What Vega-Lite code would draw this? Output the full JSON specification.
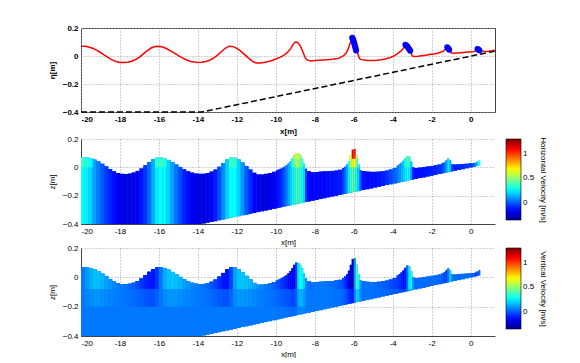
{
"$schema": "https://vega.github.io/schema/vega-lite/v6.json",
"padding": {"left": 47, "top": 23, "right": 0, "bottom": 0},
"background": "white",
"spacing": -1,
"datasets": {
"cols": [
{"x":-20,"x2":-19.8,"bed":-0.4,"eta":0.07,"u":0.27,"ut":0.36,"utz":0,"w":0.05,"wz":-0.08,"wm":0.05,"wmz":-0.2,"wd":0.05},
{"x":-19.8,"x2":-19.6,"bed":-0.4,"eta":0.069,"u":0.25,"ut":0.33,"utz":0,"w":0.1,"wz":-0.08,"wm":0.07,"wmz":-0.2,"wd":0.05},
{"x":-19.6,"x2":-19.4,"bed":-0.4,"eta":0.064,"u":0.2,"ut":0.27,"utz":0,"w":0.14,"wz":-0.08,"wm":0.086,"wmz":-0.2,"wd":0.05},
{"x":-19.4,"x2":-19.2,"bed":-0.4,"eta":0.055,"u":0.12,"w":0.17,"wz":-0.08,"wm":0.098,"wmz":-0.2,"wd":0.05},
{"x":-19.2,"x2":-19,"bed":-0.4,"eta":0.042,"u":0.06,"w":0.17,"wz":-0.08,"wm":0.098,"wmz":-0.2,"wd":0.05},
{"x":-19,"x2":-18.8,"bed":-0.4,"eta":0.025,"u":0,"w":0.15,"wz":-0.08,"wm":0.09,"wmz":-0.2,"wd":0.05},
{"x":-18.8,"x2":-18.6,"bed":-0.4,"eta":0.007,"u":-0.05,"w":0.12,"wz":-0.08,"wm":0.078,"wmz":-0.2,"wd":0.05},
{"x":-18.6,"x2":-18.4,"bed":-0.4,"eta":-0.012,"u":-0.09,"w":0.1,"wz":-0.08,"wm":0.07,"wmz":-0.2,"wd":0.05},
{"x":-18.4,"x2":-18.2,"bed":-0.4,"eta":-0.028,"u":-0.13,"w":0.08,"wz":-0.08,"wm":0.062,"wmz":-0.2,"wd":0.05},
{"x":-18.2,"x2":-18,"bed":-0.4,"eta":-0.04,"u":-0.16,"w":0.06,"wz":-0.08,"wm":0.054,"wmz":-0.2,"wd":0.05},
{"x":-18,"x2":-17.8,"bed":-0.4,"eta":-0.046,"u":-0.19,"w":0.05,"wz":-0.08,"wm":0.05,"wmz":-0.2,"wd":0.05},
{"x":-17.8,"x2":-17.6,"bed":-0.4,"eta":-0.047,"u":-0.2,"w":0.04,"wz":-0.08,"wm":0.046,"wmz":-0.2,"wd":0.05},
{"x":-17.6,"x2":-17.4,"bed":-0.4,"eta":-0.044,"u":-0.2,"w":0.02,"wz":-0.08,"wm":0.038,"wmz":-0.2,"wd":0.05},
{"x":-17.4,"x2":-17.2,"bed":-0.4,"eta":-0.037,"u":-0.19,"w":0,"wz":-0.08,"wm":0.03,"wmz":-0.2,"wd":0.05},
{"x":-17.2,"x2":-17,"bed":-0.4,"eta":-0.025,"u":-0.16,"w":-0.03,"wz":-0.08,"wm":0.018,"wmz":-0.2,"wd":0.05},
{"x":-17,"x2":-16.8,"bed":-0.4,"eta":-0.008,"u":-0.12,"w":-0.06,"wz":-0.08,"wm":0.006,"wmz":-0.2,"wd":0.05},
{"x":-16.8,"x2":-16.6,"bed":-0.4,"eta":0.015,"u":-0.06,"w":-0.09,"wz":-0.08,"wm":-0.006,"wmz":-0.2,"wd":0.05},
{"x":-16.6,"x2":-16.4,"bed":-0.4,"eta":0.038,"u":0.03,"w":-0.11,"wz":-0.08,"wm":-0.014,"wmz":-0.2,"wd":0.05},
{"x":-16.4,"x2":-16.2,"bed":-0.4,"eta":0.057,"u":0.14,"w":-0.11,"wz":-0.08,"wm":-0.014,"wmz":-0.2,"wd":0.05},
{"x":-16.2,"x2":-16,"bed":-0.4,"eta":0.068,"u":0.24,"ut":0.33,"utz":0,"w":-0.06,"wz":-0.08,"wm":0.006,"wmz":-0.2,"wd":0.05},
{"x":-16,"x2":-15.8,"bed":-0.4,"eta":0.07,"u":0.28,"ut":0.36,"utz":0,"w":0.05,"wz":-0.08,"wm":0.05,"wmz":-0.2,"wd":0.05},
{"x":-15.8,"x2":-15.6,"bed":-0.4,"eta":0.064,"u":0.26,"ut":0.32,"utz":0,"w":0.14,"wz":-0.08,"wm":0.086,"wmz":-0.2,"wd":0.05},
{"x":-15.6,"x2":-15.4,"bed":-0.4,"eta":0.052,"u":0.2,"w":0.17,"wz":-0.08,"wm":0.098,"wmz":-0.2,"wd":0.05},
{"x":-15.4,"x2":-15.2,"bed":-0.4,"eta":0.037,"u":0.12,"w":0.18,"wz":-0.08,"wm":0.102,"wmz":-0.2,"wd":0.05},
{"x":-15.2,"x2":-15,"bed":-0.4,"eta":0.02,"u":0.04,"w":0.17,"wz":-0.08,"wm":0.098,"wmz":-0.2,"wd":0.05},
{"x":-15,"x2":-14.8,"bed":-0.4,"eta":0.003,"u":-0.03,"w":0.15,"wz":-0.08,"wm":0.09,"wmz":-0.2,"wd":0.05},
{"x":-14.8,"x2":-14.6,"bed":-0.4,"eta":-0.013,"u":-0.09,"w":0.12,"wz":-0.08,"wm":0.078,"wmz":-0.2,"wd":0.05},
{"x":-14.6,"x2":-14.4,"bed":-0.4,"eta":-0.027,"u":-0.13,"w":0.1,"wz":-0.08,"wm":0.07,"wmz":-0.2,"wd":0.05},
{"x":-14.4,"x2":-14.2,"bed":-0.4,"eta":-0.037,"u":-0.17,"w":0.08,"wz":-0.08,"wm":0.062,"wmz":-0.2,"wd":0.05},
{"x":-14.2,"x2":-14,"bed":-0.4,"eta":-0.043,"u":-0.19,"w":0.06,"wz":-0.08,"wm":0.054,"wmz":-0.2,"wd":0.05},
{"x":-14,"x2":-13.8,"bed":-0.4,"eta":-0.046,"u":-0.2,"w":0.05,"wz":-0.08,"wm":0.05,"wmz":-0.2,"wd":0.05},
{"x":-13.8,"x2":-13.6,"bed":-0.397,"eta":-0.045,"u":-0.2,"w":0.04,"wz":-0.08,"wm":0.046,"wmz":-0.2,"wd":0.05},
{"x":-13.6,"x2":-13.4,"bed":-0.391,"eta":-0.04,"u":-0.19,"w":0.02,"wz":-0.08,"wm":0.038,"wmz":-0.2,"wd":0.05},
{"x":-13.4,"x2":-13.2,"bed":-0.386,"eta":-0.03,"u":-0.16,"w":-0.01,"wz":-0.08,"wm":0.026,"wmz":-0.2,"wd":0.05},
{"x":-13.2,"x2":-13,"bed":-0.38,"eta":-0.015,"u":-0.1,"w":-0.04,"wz":-0.08,"wm":0.014,"wmz":-0.2,"wd":0.05},
{"x":-13,"x2":-12.8,"bed":-0.374,"eta":0.005,"u":-0.02,"w":-0.08,"wz":-0.08,"wm":-0.002,"wmz":-0.2,"wd":0.05},
{"x":-12.8,"x2":-12.6,"bed":-0.368,"eta":0.03,"u":0.08,"w":-0.11,"wz":-0.08,"wm":-0.014,"wmz":-0.2,"wd":0.05},
{"x":-12.6,"x2":-12.4,"bed":-0.362,"eta":0.055,"u":0.2,"w":-0.12,"wz":-0.08,"wm":-0.018,"wmz":-0.2,"wd":0.05},
{"x":-12.4,"x2":-12.2,"bed":-0.357,"eta":0.07,"u":0.28,"ut":0.37,"utz":0,"w":-0.03,"wz":-0.08,"wm":0.018,"wmz":-0.2,"wd":0.05},
{"x":-12.2,"x2":-12,"bed":-0.351,"eta":0.067,"u":0.27,"ut":0.34,"utz":0,"w":0.12,"wz":-0.08,"wm":0.078,"wmz":-0.2,"wd":0.05},
{"x":-12,"x2":-11.8,"bed":-0.345,"eta":0.055,"u":0.2,"w":0.17,"wz":-0.08,"wm":0.098,"wmz":-0.2,"wd":0.05},
{"x":-11.8,"x2":-11.6,"bed":-0.339,"eta":0.035,"u":0.1,"w":0.18,"wz":-0.08,"wm":0.102,"wmz":-0.2,"wd":0.05},
{"x":-11.6,"x2":-11.4,"bed":-0.334,"eta":0.01,"u":0,"w":0.17,"wz":-0.08,"wm":0.098,"wmz":-0.2,"wd":0.05},
{"x":-11.4,"x2":-11.2,"bed":-0.328,"eta":-0.015,"u":-0.08,"w":0.15,"wz":-0.08,"wm":0.09,"wmz":-0.2,"wd":0.05},
{"x":-11.2,"x2":-11,"bed":-0.322,"eta":-0.038,"u":-0.15,"w":0.12,"wz":-0.08,"wm":0.078,"wmz":-0.2,"wd":0.05},
{"x":-11,"x2":-10.8,"bed":-0.316,"eta":-0.05,"u":-0.19,"w":0.09,"wz":-0.08,"wm":0.066,"wmz":-0.2,"wd":0.05},
{"x":-10.8,"x2":-10.6,"bed":-0.31,"eta":-0.05,"u":-0.2,"w":0.07,"wz":-0.08,"wm":0.058,"wmz":-0.2,"wd":0.05},
{"x":-10.6,"x2":-10.4,"bed":-0.305,"eta":-0.046,"u":-0.2,"w":0.05,"wz":-0.08,"wm":0.05,"wmz":-0.2,"wd":0.05},
{"x":-10.4,"x2":-10.2,"bed":-0.299,"eta":-0.04,"u":-0.19,"w":0.03,"wz":-0.08,"wm":0.042,"wmz":-0.2,"wd":0.05},
{"x":-10.2,"x2":-10,"bed":-0.293,"eta":-0.032,"u":-0.17,"w":0.01,"wz":-0.08,"wm":0.034,"wmz":-0.2,"wd":0.05},
{"x":-10,"x2":-9.9,"bed":-0.289,"eta":-0.022,"u":-0.14,"w":-0.01,"wz":-0.08,"wm":0.026,"wmz":-0.2,"wd":0.05},
{"x":-9.9,"x2":-9.8,"bed":-0.286,"eta":-0.016,"u":-0.12,"w":-0.03,"wz":-0.08,"wm":0.018,"wmz":-0.2,"wd":0.05},
{"x":-9.8,"x2":-9.7,"bed":-0.283,"eta":-0.01,"u":-0.09,"w":-0.05,"wz":-0.08,"wm":0.01,"wmz":-0.2,"wd":0.05},
{"x":-9.7,"x2":-9.6,"bed":-0.28,"eta":-0.003,"u":-0.05,"w":-0.07,"wz":-0.08,"wm":0.002,"wmz":-0.2,"wd":0.05},
{"x":-9.6,"x2":-9.5,"bed":-0.277,"eta":0.005,"u":0,"w":-0.09,"wz":-0.08,"wm":-0.006,"wmz":-0.2,"wd":0.04},
{"x":-9.5,"x2":-9.4,"bed":-0.274,"eta":0.015,"u":0.06,"w":-0.11,"wz":-0.08,"wm":-0.014,"wmz":-0.2,"wd":0.04},
{"x":-9.4,"x2":-9.3,"bed":-0.271,"eta":0.027,"u":0.13,"w":-0.13,"wz":-0.08,"wm":-0.022,"wmz":-0.2,"wd":0.03},
{"x":-9.3,"x2":-9.2,"bed":-0.269,"eta":0.042,"u":0.2,"w":-0.15,"wz":-0.08,"wm":-0.03,"wmz":-0.2,"wd":0.03},
{"x":-9.2,"x2":-9.1,"bed":-0.266,"eta":0.062,"u":0.27,"ut":0.35,"utz":0,"utt":0.4,"uttz":0.06,"w":-0.17,"wz":-0.08,"wm":-0.038,"wmz":-0.2,"wd":0.02},
{"x":-9.1,"x2":-9,"bed":-0.263,"eta":0.085,"u":0.33,"ut":0.45,"utz":0,"utt":0.5,"uttz":0.06,"w":-0.17,"wz":-0.08,"wm":-0.038,"wmz":-0.2,"wd":0.02},
{"x":-9,"x2":-8.9,"bed":-0.26,"eta":0.1,"u":0.38,"ut":0.55,"utz":0,"utt":0.62,"uttz":0.06,"w":-0.05,"wz":-0.08,"wm":0.01,"wmz":-0.2,"wd":0.04},
{"x":-8.9,"x2":-8.8,"bed":-0.257,"eta":0.098,"u":0.38,"ut":0.52,"utz":0,"utt":0.6,"uttz":0.06,"w":0.22,"wz":-0.08,"wm":0.118,"wmz":-0.2,"wd":0.07},
{"x":-8.8,"x2":-8.7,"bed":-0.254,"eta":0.085,"u":0.35,"ut":0.45,"utz":0,"utt":0.5,"uttz":0.06,"w":0.3,"wz":-0.08,"wm":0.15,"wmz":-0.2,"wd":0.08},
{"x":-8.7,"x2":-8.6,"bed":-0.251,"eta":0.06,"u":0.3,"ut":0.38,"utz":0,"w":0.28,"wz":-0.08,"wm":0.142,"wmz":-0.2,"wd":0.08},
{"x":-8.6,"x2":-8.5,"bed":-0.248,"eta":0.025,"u":0.22,"ut":0.26,"utz":0,"w":0.2,"wz":-0.08,"wm":0.11,"wmz":-0.2,"wd":0.07},
{"x":-8.5,"x2":-8.4,"bed":-0.245,"eta":-0.01,"u":-0.05,"w":0.08,"wz":-0.08,"wm":0.062,"wmz":-0.2,"wd":0.05},
{"x":-8.4,"x2":-8.2,"bed":-0.241,"eta":-0.028,"u":-0.14,"w":0.04,"wz":-0.08,"wm":0.046,"wmz":-0.2,"wd":0.05},
{"x":-8.2,"x2":-8,"bed":-0.235,"eta":-0.035,"u":-0.14,"w":0.04,"wz":-0.08,"wm":0.046,"wmz":-0.2,"wd":0.05},
{"x":-8,"x2":-7.8,"bed":-0.23,"eta":-0.033,"u":-0.14,"w":0.05,"wz":-0.08,"wm":0.05,"wmz":-0.2,"wd":0.05},
{"x":-7.8,"x2":-7.6,"bed":-0.224,"eta":-0.03,"u":-0.14,"w":0.05,"wz":-0.08,"wm":0.05,"wmz":-0.2,"wd":0.05},
{"x":-7.6,"x2":-7.4,"bed":-0.218,"eta":-0.028,"u":-0.14,"w":0.05,"wz":-0.08,"wm":0.05,"wmz":-0.2,"wd":0.05},
{"x":-7.4,"x2":-7.2,"bed":-0.212,"eta":-0.027,"u":-0.13,"w":0.04,"wz":-0.08,"wm":0.046,"wmz":-0.2,"wd":0.05},
{"x":-7.2,"x2":-7,"bed":-0.206,"eta":-0.025,"u":-0.13,"w":0.03,"wz":-0.08,"wm":0.042,"wmz":-0.2,"wd":0.05},
{"x":-7,"x2":-6.8,"bed":-0.201,"eta":-0.022,"u":-0.12,"w":0.02,"wz":-0.08,"wm":0.038,"wmz":-0.2,"wd":0.05},
{"x":-6.8,"x2":-6.6,"bed":-0.195,"eta":-0.017,"u":-0.1,"w":0,"wz":-0.08,"wd":0.04},
{"x":-6.6,"x2":-6.5,"bed":-0.19,"eta":-0.005,"u":-0.05,"w":-0.03,"wz":-0.08,"wd":0.02},
{"x":-6.5,"x2":-6.4,"bed":-0.188,"eta":0.005,"u":0.02,"w":-0.07,"wz":-0.08,"wd":0},
{"x":-6.4,"x2":-6.3,"bed":-0.185,"eta":0.02,"u":0.12,"w":-0.12,"wz":-0.08,"wd":-0.03},
{"x":-6.3,"x2":-6.2,"bed":-0.182,"eta":0.045,"u":0.25,"ut":0.35,"utz":0,"w":-0.18,"wz":-0.08,"wd":-0.06},
{"x":-6.2,"x2":-6.1,"bed":-0.179,"eta":0.085,"u":0.38,"ut":0.55,"utz":0,"utt":0.65,"uttz":0.06,"w":-0.25,"wz":-0.08,"wd":-0.1},
{"x":-6.1,"x2":-6,"bed":-0.176,"eta":0.125,"u":0.42,"ut":0.72,"utz":0,"utt":1.12,"uttz":0.06,"w":-0.28,"wz":-0.08,"wd":-0.12},
{"x":-6,"x2":-5.9,"bed":-0.173,"eta":0.13,"u":0.4,"ut":0.68,"utz":0,"utt":1.05,"uttz":0.06,"w":0.1,"wz":-0.08,"wd":0.05},
{"x":-5.9,"x2":-5.8,"bed":-0.17,"eta":0.085,"u":0.3,"ut":0.45,"utz":0,"utt":0.6,"uttz":0.06,"w":0.38,"wz":-0.08,"wd":0.2},
{"x":-5.8,"x2":-5.7,"bed":-0.168,"eta":0.02,"u":0.2,"ut":0.3,"utz":0,"w":0.3,"wz":-0.08,"wd":0.18},
{"x":-5.7,"x2":-5.6,"bed":-0.165,"eta":-0.02,"u":0,"w":0.12,"wz":-0.08,"wd":0.08},
{"x":-5.6,"x2":-5.4,"bed":-0.16,"eta":-0.026,"u":-0.12,"w":0.04,"wz":-0.08,"wd":0.04},
{"x":-5.4,"x2":-5.2,"bed":-0.154,"eta":-0.03,"u":-0.13,"w":0.04,"wz":-0.08,"wd":0.04},
{"x":-5.2,"x2":-5,"bed":-0.149,"eta":-0.032,"u":-0.13,"w":0.04,"wz":-0.08,"wd":0.04},
{"x":-5,"x2":-4.8,"bed":-0.143,"eta":-0.032,"u":-0.13,"w":0.03,"wz":-0.08,"wd":0.035},
{"x":-4.8,"x2":-4.6,"bed":-0.137,"eta":-0.03,"u":-0.12,"w":0.02,"wz":-0.08,"wd":0.03},
{"x":-4.6,"x2":-4.4,"bed":-0.131,"eta":-0.027,"u":-0.1,"w":0.01,"wz":-0.08,"wd":0.03},
{"x":-4.4,"x2":-4.2,"bed":-0.125,"eta":-0.022,"u":-0.07,"w":0,"wz":-0.08,"wd":0.02},
{"x":-4.2,"x2":-4,"bed":-0.12,"eta":-0.015,"u":-0.03,"w":-0.02,"wz":-0.08,"wd":0.01},
{"x":-4,"x2":-3.8,"bed":-0.114,"eta":-0.004,"u":0.01,"w":-0.04,"wz":-0.08,"wd":0},
{"x":-3.8,"x2":-3.7,"bed":-0.11,"eta":0.012,"u":0.06,"w":-0.06,"wz":-0.08,"wd":-0.01},
{"x":-3.7,"x2":-3.6,"bed":-0.107,"eta":0.022,"u":0.1,"w":-0.08,"wz":-0.08,"wd":-0.02},
{"x":-3.6,"x2":-3.5,"bed":-0.104,"eta":0.033,"u":0.15,"w":-0.1,"wz":-0.08,"wd":-0.03},
{"x":-3.5,"x2":-3.4,"bed":-0.101,"eta":0.047,"u":0.2,"w":-0.12,"wz":-0.08,"wd":-0.04},
{"x":-3.4,"x2":-3.3,"bed":-0.098,"eta":0.065,"u":0.25,"ut":0.3,"utz":0,"utt":0.33,"uttz":0.06,"w":-0.12,"wz":-0.08,"wd":-0.04},
{"x":-3.3,"x2":-3.2,"bed":-0.095,"eta":0.08,"u":0.3,"ut":0.38,"utz":0,"utt":0.42,"uttz":0.06,"w":0.02,"wz":-0.08,"wd":0.03},
{"x":-3.2,"x2":-3.1,"bed":-0.092,"eta":0.075,"u":0.28,"ut":0.35,"utz":0,"utt":0.38,"uttz":0.06,"w":0.25,"wz":-0.08,"wd":0.15},
{"x":-3.1,"x2":-3,"bed":-0.09,"eta":0.04,"u":0.12,"ut":0.2,"utz":0,"w":0.28,"wz":-0.08,"wd":0.18},
{"x":-3,"x2":-2.9,"bed":-0.087,"eta":0,"u":-0.1,"w":0.1,"wz":-0.08,"wd":0.08},
{"x":-2.9,"x2":-2.7,"bed":-0.082,"eta":-0.004,"u":-0.12,"wd":0.03},
{"x":-2.7,"x2":-2.5,"bed":-0.076,"eta":-0.002,"u":-0.12,"wd":0.03},
{"x":-2.5,"x2":-2.3,"bed":-0.071,"eta":0.002,"u":-0.12,"wd":0.03},
{"x":-2.3,"x2":-2.1,"bed":-0.065,"eta":0.006,"u":-0.11,"wd":0.03},
{"x":-2.1,"x2":-1.9,"bed":-0.059,"eta":0.01,"u":-0.1,"wd":0.03},
{"x":-1.9,"x2":-1.7,"bed":-0.053,"eta":0.014,"u":-0.09,"wd":0.03},
{"x":-1.7,"x2":-1.5,"bed":-0.047,"eta":0.02,"u":-0.07,"wd":0.02},
{"x":-1.5,"x2":-1.4,"bed":-0.043,"eta":0.028,"u":-0.04,"wd":0},
{"x":-1.4,"x2":-1.3,"bed":-0.04,"eta":0.035,"u":0.02,"wd":-0.03},
{"x":-1.3,"x2":-1.2,"bed":-0.037,"eta":0.048,"u":0.12,"wd":-0.05},
{"x":-1.2,"x2":-1.1,"bed":-0.035,"eta":0.062,"u":0.25,"wd":0.05},
{"x":-1.1,"x2":-1,"bed":-0.032,"eta":0.05,"u":0.18,"wd":0.2},
{"x":-1,"x2":-0.9,"bed":-0.029,"eta":0.022,"u":-0.05,"wd":0.08},
{"x":-0.9,"x2":-0.7,"bed":-0.024,"eta":0.02,"u":-0.09,"wd":0.03},
{"x":-0.7,"x2":-0.5,"bed":-0.019,"eta":0.022,"u":-0.09,"wd":0.03},
{"x":-0.5,"x2":-0.3,"bed":-0.013,"eta":0.024,"u":-0.08,"wd":0.03},
{"x":-0.3,"x2":-0.1,"bed":-0.007,"eta":0.026,"u":-0.07,"wd":0.03},
{"x":-0.1,"x2":0.1,"bed":-0.001,"eta":0.028,"u":-0.05,"wd":0.02},
{"x":0.1,"x2":0.2,"bed":0.003,"eta":0.03,"u":0,"wd":0},
{"x":0.2,"x2":0.3,"bed":0.006,"eta":0.033,"u":0.08,"wd":-0.03},
{"x":0.3,"x2":0.4,"bed":0.009,"eta":0.04,"u":0.2,"wd":-0.05},
{"x":0.4,"x2":0.5,"bed":0.012,"eta":0.05,"u":0.28,"wd":0},
{"x":0.5,"eta":0.04},
{"x":0.7,"eta":0.033},
{"x":0.9,"eta":0.034},
{"x":1.1,"eta":0.038},
{"x":1.25,"eta":0.042}
],
"bedline": [
{"x":-20,"z":-0.4},
{"x":-13.8,"z":-0.4},
{"x":1.25,"z":0.035}
],
"dots": [
{"x":-6.08,"eta":0.13},{"x":-6.05,"eta":0.124},{"x":-6.02,"eta":0.114},{"x":-6,"eta":0.102},{"x":-5.97,"eta":0.09},{"x":-5.95,"eta":0.076},{"x":-5.92,"eta":0.062},{"x":-5.9,"eta":0.05},{"x":-5.88,"eta":0.04},
{"x":-3.35,"eta":0.08},{"x":-3.3,"eta":0.075},{"x":-3.25,"eta":0.068},{"x":-3.2,"eta":0.058},{"x":-3.15,"eta":0.048},{"x":-3.1,"eta":0.038},
{"x":-1.2,"eta":0.062},{"x":-1.15,"eta":0.054},{"x":-1.1,"eta":0.045},
{"x":0.35,"eta":0.05},{"x":0.4,"eta":0.046},{"x":0.45,"eta":0.04}
]
},
"vconcat": [
{
"width": 414, "height": 84,
"view": {"stroke": "#444"},
"layer": [
{
"data": {"name": "cols"},
"mark": {"type": "line", "color": "#ff0000", "strokeWidth": 1.5},
"encoding": {
"x": {"field": "x", "type": "quantitative", "scale": {"domain": [-20, 1.25], "nice": false, "zero": false},
"axis": {"values": [-20,-18,-16,-14,-12,-10,-8,-6,-4,-2,0], "title": "x[m]", "domain": false, "labelFontWeight": "bold", "titleFontWeight": "bold", "labelExpr": "replace(format(datum.value, '~g'), '\u2212', '-')", "titlePadding": 4}},
"y": {"field": "eta", "type": "quantitative", "scale": {"domain": [-0.4, 0.2], "nice": false, "zero": false},
"axis": {"tickCount": 4, "format": ".1~f", "title": "η[m]", "domain": false, "labelFontWeight": "bold", "titleFontWeight": "bold", "titlePadding": 6, "labelOverlap": false, "labelFlush": false}}
}
},
{
"data": {"name": "bedline"},
"mark": {"type": "line", "color": "#000000", "strokeWidth": 1.5, "strokeDash": [6, 3]},
"encoding": {
"x": {"field": "x", "type": "quantitative"},
"y": {"field": "z", "type": "quantitative"}
}
},
{
"data": {"name": "dots"},
"mark": {"type": "circle", "color": "#0000ff", "opacity": 1, "size": 36},
"encoding": {
"x": {"field": "x", "type": "quantitative"},
"y": {"field": "eta", "type": "quantitative"}
}
}
]
},
{
"spacing": -2,
"resolve": {"scale": {"color": "independent"}},
"vconcat": [
{
"width": 414, "height": 85,
"data": {"name": "cols"},
"transform": [{"filter": "isValid(datum.x2)"}],
"layer": [
{
"mark": {"type": "area", "interpolate": "step-after", "color": "#0050ff"},
"encoding": {
"x": {"field": "x", "type": "quantitative", "scale": {"domain": [-20, 1.25], "nice": false, "zero": false},
"axis": {"values": [-20,-18,-16,-14,-12,-10,-8,-6,-4,-2,0], "title": "x[m]", "labelExpr": "replace(format(datum.value, '~g'), '\u2212', '-')", "titlePadding": 3}},
"y": {"field": "bed", "type": "quantitative", "scale": {"domain": [-0.4, 0.2], "nice": false, "zero": false},
"axis": {"tickCount": 4, "format": ".1~f", "title": "z[m]", "titlePadding": 6, "labelOverlap": false, "labelFlush": false}},
"y2": {"field": "eta"}
}
},
{
"mark": {"type": "rect"},
"encoding": {
"x": {"field": "x", "type": "quantitative"},
"x2": {"field": "x2"},
"y": {"field": "bed", "type": "quantitative"},
"y2": {"field": "eta"},
"color": {"field": "u", "type": "quantitative", "title": "Horizontal Velocity [m/s]",
"scale": {"domain": [-0.35,-0.144,0.0625,0.269,0.475,0.681,0.8875,1.094,1.3], "range": ["#00008f","#0000ff","#0080ff","#00ffff","#80ff80","#ffff00","#ff8000","#ff0000","#800000"], "interpolate": "rgb"},
"legend": {"values": [0, 0.5, 1], "format": "~g"}}
}
},
{
"transform": [{"filter": "isValid(datum.ut) && datum.eta > 0"}],
"mark": {"type": "rect"},
"encoding": {
"x": {"field": "x", "type": "quantitative"},
"x2": {"field": "x2"},
"y": {"field": "utz", "type": "quantitative"},
"y2": {"field": "eta"},
"color": {"field": "ut", "type": "quantitative", "title": "Horizontal Velocity [m/s]"}
}
},
{
"transform": [{"filter": "isValid(datum.utt) && datum.eta > 0.06"}],
"mark": {"type": "rect"},
"encoding": {
"x": {"field": "x", "type": "quantitative"},
"x2": {"field": "x2"},
"y": {"field": "uttz", "type": "quantitative"},
"y2": {"field": "eta"},
"color": {"field": "utt", "type": "quantitative", "title": "Horizontal Velocity [m/s]"}
}
}
]
},
{
"width": 414, "height": 88,
"data": {"name": "cols"},
"transform": [{"filter": "isValid(datum.x2)"}],
"layer": [
{
"mark": {"type": "area", "interpolate": "step-after", "color": "#1070ff"},
"encoding": {
"x": {"field": "x", "type": "quantitative", "scale": {"domain": [-20, 1.25], "nice": false, "zero": false},
"axis": {"values": [-20,-18,-16,-14,-12,-10,-8,-6,-4,-2,0], "title": "x[m]", "labelExpr": "replace(format(datum.value, '~g'), '\u2212', '-')", "titlePadding": 3}},
"y": {"field": "bed", "type": "quantitative", "scale": {"domain": [-0.4, 0.2], "nice": false, "zero": false},
"axis": {"tickCount": 4, "format": ".1~f", "title": "z[m]", "titlePadding": 6, "labelOverlap": false, "labelFlush": false}},
"y2": {"field": "eta"}
}
},
{
"mark": {"type": "rect"},
"encoding": {
"x": {"field": "x", "type": "quantitative"},
"x2": {"field": "x2"},
"y": {"field": "bed", "type": "quantitative"},
"y2": {"field": "eta"},
"color": {"field": "wd", "type": "quantitative", "title": "Vertical Velocity [m/s]",
"scale": {"domain": [-0.35,-0.144,0.0625,0.269,0.475,0.681,0.8875,1.094,1.3], "range": ["#00008f","#0000ff","#0080ff","#00ffff","#80ff80","#ffff00","#ff8000","#ff0000","#800000"], "interpolate": "rgb"},
"legend": {"values": [0, 0.5, 1], "format": "~g"}}
}
},
{
"transform": [{"filter": "isValid(datum.wm) && datum.bed < -0.2"}],
"mark": {"type": "rect"},
"encoding": {
"x": {"field": "x", "type": "quantitative"},
"x2": {"field": "x2"},
"y": {"field": "wmz", "type": "quantitative"},
"y2": {"field": "eta"},
"color": {"field": "wm", "type": "quantitative", "title": "Vertical Velocity [m/s]"}
}
},
{
"transform": [{"filter": "isValid(datum.w) && datum.bed < -0.08"}],
"mark": {"type": "rect"},
"encoding": {
"x": {"field": "x", "type": "quantitative"},
"x2": {"field": "x2"},
"y": {"field": "wz", "type": "quantitative"},
"y2": {"field": "eta"},
"color": {"field": "w", "type": "quantitative", "title": "Vertical Velocity [m/s]"}
}
}
]
}
]
}
],
"config": {
"font": "Liberation Sans",
"view": {"stroke": null},
"axis": {"labelFontSize": 8, "titleFontSize": 8, "labelColor": "#000", "titleColor": "#000", "titleFontWeight": "normal", "gridDash": [1, 2], "gridColor": "#a0a0a0", "gridOpacity": 1, "domainColor": "#444", "ticks": false, "labelPadding": 3, "labelOverlap": false},
"legend": {"gradientLength": 81, "gradientThickness": 15, "labelFontSize": 8, "titleFontSize": 8, "titleFontWeight": "normal", "titleOrient": "right", "gradientStrokeColor": "#000", "gradientStrokeWidth": 0.6, "offset": 11, "padding": 0, "titlePadding": 5, "labelOffset": 3}
}
}
